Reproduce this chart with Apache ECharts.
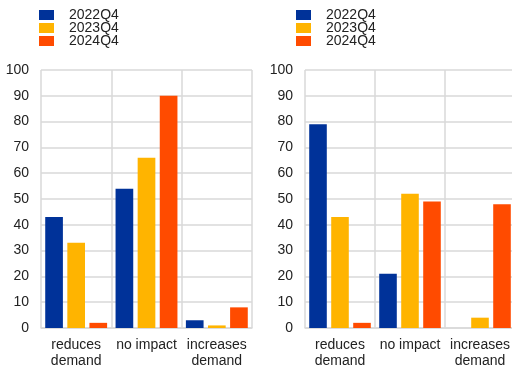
<!DOCTYPE html>
<html>
<head>
<meta charset="utf-8">
<script src="https://cdn.jsdelivr.net/npm/echarts@6/dist/echarts.min.js"></script>
<style>html,body{margin:0;padding:0;background:#fff;}#c{width:512px;height:367px;}</style>
</head>
<body>
<div id="c"></div>
<script>
var categories = ['reduces\ndemand', 'no impact', 'increases\ndemand'];
var seriesNames = ['2022Q4', '2023Q4', '2024Q4'];
var colors = ['#003299', '#FFB400', '#FF4B00'];
var left2022 = [43, 54, 3];
var left2023 = [33, 66, 1];
var left2024 = [2, 90, 8];
var right2022 = [79, 21, 0];
var right2023 = [43, 52, 4];
var right2024 = [2, 49, 48];
var yTicks = [0, 10, 20, 30, 40, 50, 60, 70, 80, 90, 100];

var font = 'Liberation Sans, Arial, sans-serif';
var gridColor = '#d9d9d9';
var textColor = '#222';

function xAxis(gi) {
  return {
    type: 'category', gridIndex: gi, data: categories,
    axisLine: {show: true, lineStyle: {color: gridColor, width: 1.5}},
    axisTick: {show: false},
    splitLine: {show: true, lineStyle: {color: gridColor, width: 1.5}},
    axisLabel: {color: textColor, fontFamily: font, fontSize: 14, lineHeight: 16, margin: 9, interval: 0}
  };
}
function yAxis(gi) {
  return {
    type: 'value', gridIndex: gi, min: yTicks[0], max: yTicks[yTicks.length - 1], interval: 10,
    axisLine: {show: false}, axisTick: {show: false},
    splitLine: {show: true, lineStyle: {color: gridColor, width: 1.5}},
    axisLabel: {color: textColor, fontFamily: font, fontSize: 14, margin: 12}
  };
}
function bar(name, data, gi, ci) {
  return {
    name: name, type: 'bar', xAxisIndex: gi, yAxisIndex: gi, data: data,
    barCategoryGap: '12%', barGap: '25%',
    itemStyle: {color: colors[ci]},
    emphasis: {disabled: true}
  };
}
var legendTops = [8, 21, 34];
function legendItem(leftPx, i) {
  return {
    left: leftPx, top: legendTops[i], padding: 0, icon: 'rect',
    itemWidth: 15, itemHeight: 10,
    data: [seriesNames[i]],
    textStyle: {color: textColor, fontFamily: font, fontSize: 14, padding: [0, 0, 0, 10]}
  };
}
var legends = [];
[39, 296].forEach(function (lx) {
  for (var i = 0; i < seriesNames.length; i++) legends.push(legendItem(lx, i));
});

var chart = echarts.init(document.getElementById('c'), null, {renderer: 'canvas'});
chart.setOption({
  animation: false,
  color: colors,
  legend: legends,
  grid: [
    {left: 41, top: 70, width: 211, height: 258, containLabel: false, outerBoundsMode: 'none'},
    {left: 305, top: 70, width: 210, height: 258, containLabel: false, outerBoundsMode: 'none'}
  ],
  xAxis: [xAxis(0), xAxis(1)],
  yAxis: [yAxis(0), yAxis(1)],
  series: [
    bar(seriesNames[0], left2022, 0, 0),
    bar(seriesNames[1], left2023, 0, 1),
    bar(seriesNames[2], left2024, 0, 2),
    bar(seriesNames[0], right2022, 1, 0),
    bar(seriesNames[1], right2023, 1, 1),
    bar(seriesNames[2], right2024, 1, 2)
  ]
});
</script>
</body>
</html>
